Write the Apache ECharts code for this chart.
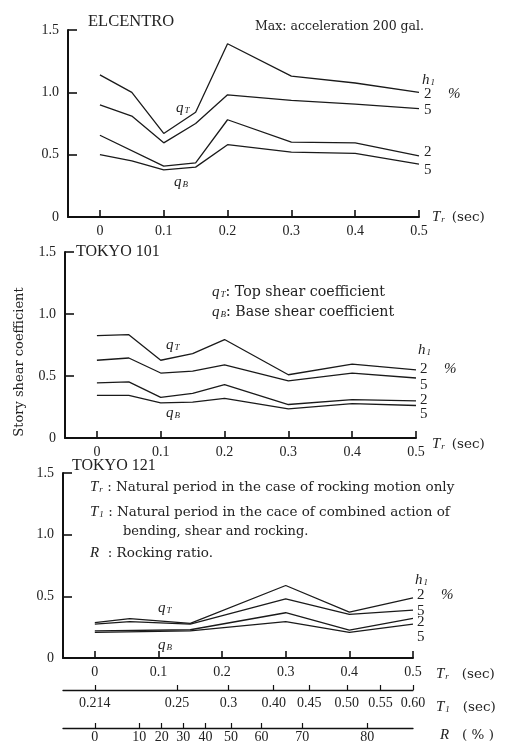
<!DOCTYPE html>
<html><head><meta charset="utf-8">
<script src="https://cdn.jsdelivr.net/npm/echarts@6/dist/echarts.min.js"></script>
<style>html,body{margin:0;padding:0;background:#fff}#c{width:514px;height:744px}</style>
</head><body><div id="c"></div>
<script>
// ---- data ----
const trX = [0, 0.05, 0.1, 0.15, 0.2, 0.3, 0.4, 0.5];
// ELCENTRO
const elQT2 = [1.14, 1.0, 0.67, 0.84, 1.39, 1.13, 1.075, 1.0];
const elQT5 = [0.9, 0.81, 0.595, 0.75, 0.98, 0.935, 0.905, 0.87];
const elQB2 = [0.656, null, 0.408, 0.434, 0.78, 0.6, 0.594, 0.49];
const elQB5 = [0.5, 0.45, 0.378, 0.4, 0.58, 0.52, 0.51, 0.424];
// TOKYO 101
const t101QT2 = [0.825, 0.833, 0.627, 0.68, 0.794, 0.51, 0.595, 0.55];
const t101QT5 = [0.627, 0.645, 0.524, 0.54, 0.59, 0.46, 0.524, 0.484];
const t101QB2 = [0.444, 0.452, 0.328, 0.36, 0.43, 0.27, 0.31, 0.30];
const t101QB5 = [0.344, 0.344, 0.283, 0.29, 0.32, 0.235, 0.278, 0.262];
// TOKYO 121
const t121X = [0, 0.055, 0.15, 0.3, 0.4, 0.5];
const t121QT2 = [0.287, 0.32, 0.28, 0.588, 0.372, 0.487];
const t121QT5 = [0.274, 0.295, 0.274, 0.48, 0.354, 0.388];
const t121QB2 = [0.22, null, 0.229, 0.367, 0.226, 0.322];
const t121QB5 = [0.207, null, 0.22, 0.295, 0.207, 0.274];
// tick labels
const yTicks = [0, 0.5, 1.0, 1.5];
const trTicks = [0, 0.1, 0.2, 0.3, 0.4, 0.5];
const t1Labels = ['0.214', '0.25', '0.3', '0.40', '0.45', '0.50', '0.55', '0.60'];
const t1AtTr = [0, 0.129, 0.21, 0.281, 0.337, 0.396, 0.449, 0.5];
const rLabels = ['0', '10', '20', '30', '40', '50', '60', '70', '80'];
const rAtTr = [0, 0.07, 0.105, 0.139, 0.174, 0.214, 0.262, 0.326, 0.428];

const FONT = '"Liberation Serif", "DejaVu Serif", serif';
const WIDE = '"DejaVu Serif", "Liberation Serif", serif';
const pair = (xs, ys) => xs.map((x, i) => [x, ys[i]]);

const grids = [
  {left: 68, right: 95, top: 30, height: 187},
  {left: 65, right: 98, top: 252, height: 186},
  {left: 63, right: 101, top: 473, height: 186}
];

function xMain(gi) {
  return {
    type: 'value', gridIndex: gi, min: -0.05, max: 0.5,
    axisLine: {onZero: false, lineStyle: {color: '#111', width: 2}},
    axisTick: {show: true, inside: true, length: 7, customValues: trTicks, lineStyle: {color: '#111', width: 1.6}},
    axisLabel: {customValues: trTicks, margin: 7, color: '#222', fontFamily: FONT, fontSize: 14,
      formatter: v => v === 0 ? '0' : v.toFixed(1)},
    splitLine: {show: false}
  };
}
function yMain(gi) {
  return {
    type: 'value', gridIndex: gi, min: 0, max: 1.5, interval: 0.5,
    axisLine: {show: true, onZero: false, lineStyle: {color: '#111', width: 2}},
    axisTick: {show: true, inside: true, length: 9, lineStyle: {color: '#111', width: 1.6}},
    axisLabel: {customValues: yTicks, margin: 9, color: '#222', fontFamily: FONT, fontSize: 14,
      formatter: v => v === 0 ? '0' : v.toFixed(1)},
    splitLine: {show: false}
  };
}
function nearestLabel(v, pos, labels) {
  let b = 0, d = 1e9;
  pos.forEach((p, i) => { if (Math.abs(p - v) < d) { d = Math.abs(p - v); b = i; } });
  return labels[b];
}
const xAxes = [xMain(0), xMain(1), xMain(2),
  {
    type: 'value', gridIndex: 2, min: -0.05, max: 0.5, position: 'bottom', offset: 32,
    axisLine: {onZero: false, lineStyle: {color: '#111', width: 1.3}},
    axisTick: {show: true, inside: true, length: 5, customValues: t1AtTr, lineStyle: {color: '#111', width: 1.2}},
    axisLabel: {customValues: t1AtTr, margin: 6, color: '#222', fontFamily: FONT, fontSize: 14,
      formatter: v => nearestLabel(v, t1AtTr, t1Labels)},
    splitLine: {show: false}
  },
  {
    type: 'value', gridIndex: 2, min: -0.05, max: 0.5, position: 'bottom', offset: 70,
    axisLine: {onZero: false, lineStyle: {color: '#111', width: 1.3}},
    axisTick: {show: true, inside: true, length: 5, customValues: rAtTr, lineStyle: {color: '#111', width: 1.2}},
    axisLabel: {customValues: rAtTr, margin: 2, color: '#222', fontFamily: FONT, fontSize: 14,
      formatter: v => nearestLabel(v, rAtTr, rLabels)},
    splitLine: {show: false}
  }
];
const yAxes = [yMain(0), yMain(1), yMain(2)];

function line(gi, xs, ys) {
  return {
    type: 'line', xAxisIndex: gi, yAxisIndex: gi, data: pair(xs, ys),
    symbol: 'none', connectNulls: true, silent: true,
    lineStyle: {color: '#1a1a1a', width: 1.3}
  };
}
const series = [
  line(0, trX, elQT2), line(0, trX, elQT5), line(0, trX, elQB2), line(0, trX, elQB5),
  line(1, trX, t101QT2), line(1, trX, t101QT5), line(1, trX, t101QB2), line(1, trX, t101QB5),
  line(2, t121X, t121QT2), line(2, t121X, t121QT5), line(2, t121X, t121QB2), line(2, t121X, t121QB5)
];

const rich = {
  i: {fontFamily: FONT, fontStyle: 'italic', fontSize: 15, fill: '#222'},
  s: {fontFamily: FONT, fontStyle: 'italic', fontSize: 9, fill: '#222', verticalAlign: 'bottom', padding: [6, 0, 0, 1]},
  n: {fontFamily: WIDE, fontSize: 13, fill: '#222'},
  m: {fontFamily: WIDE, fontSize: 13.5, fill: '#222'},
  w: {fontFamily: WIDE, fontSize: 14.2, fill: '#222'}
};
function txt(x, y, text, opts) {
  opts = opts || {};
  return {type: 'text', x: x, y: y, rotation: opts.rot || 0, silent: true,
    style: Object.assign({text: text, fill: '#222', fontFamily: opts.font || FONT, fontSize: opts.size || 14,
      textAlign: opts.align || 'left', textVerticalAlign: 'middle', rich: rich}, opts.style || {})};
}
function qLab(x, y, sub) { return txt(x, y, '{i|q}{s|' + sub + '}'); }
function rightLabels(x, yh, y2, y5, yb2, yb5) {
  return [
    txt(x - 2, yh, '{i|h}{s|1}'),
    txt(x, y2, '2', {size: 15}), txt(x + 24, y2, '%', {size: 15, style: {fontStyle: 'italic'}}),
    txt(x, y5, '5', {size: 15}), txt(x, yb2, '2', {size: 15}), txt(x, yb5, '5', {size: 15})
  ];
}
function trLabel(x, y) { return txt(x, y, '{i|T}{s|r}  {m|(sec)}'); }

const graphic = [
  txt(88, 22, 'ELCENTRO', {size: 16.5}),
  txt(255, 27, 'Max: acceleration 200 gal.', {size: 12.5, font: WIDE}),
  qLab(176, 108, 'T'), qLab(174, 182, 'B'),
  ...rightLabels(424, 80, 94, 110, 152, 170),
  trLabel(432, 217),

  txt(76, 252, 'TOKYO 101', {size: 16}),
  txt(20, 362, 'Story shear coefficient', {size: 13, font: WIDE, align: 'center', rot: Math.PI / 2}),
  txt(212, 292, '{i|q}{s|T}{w|: Top shear coefficient}'),
  txt(212, 312, '{i|q}{s|B}{w|: Base shear coefficient}'),
  qLab(166, 345, 'T'), qLab(166, 413, 'B'),
  ...rightLabels(420, 350, 369, 385, 400, 414),
  trLabel(432, 444),

  txt(72, 466, 'TOKYO 121', {size: 16}),
  txt(90, 487, '{i|T}{s|r}{m| : Natural period in the case of rocking motion only}'),
  txt(90, 512, '{i|T}{s|1}{m| : Natural period in the cace of combined action of}'),
  txt(123, 532, 'bending, shear and rocking.', {size: 13, font: WIDE}),
  txt(90, 553, '{i|R}{m|  : Rocking ratio.}'),
  qLab(158, 608, 'T'), qLab(158, 645, 'B'),
  ...rightLabels(417, 580, 595, 611, 622, 637),
  txt(436, 674, '{i|T}{s|r}{m|   (sec)}'),
  txt(436, 707, '{i|T}{s|1}{m|   (sec)}'),
  txt(440, 735, '{i|R}{m|   ( % )}')
];

const chart = echarts.init(document.getElementById('c'), null, {renderer: 'canvas'});
chart.setOption({
  backgroundColor: '#fff',
  animation: false,
  grid: grids,
  xAxis: xAxes,
  yAxis: yAxes,
  series: series,
  graphic: graphic
});
</script></body></html>
